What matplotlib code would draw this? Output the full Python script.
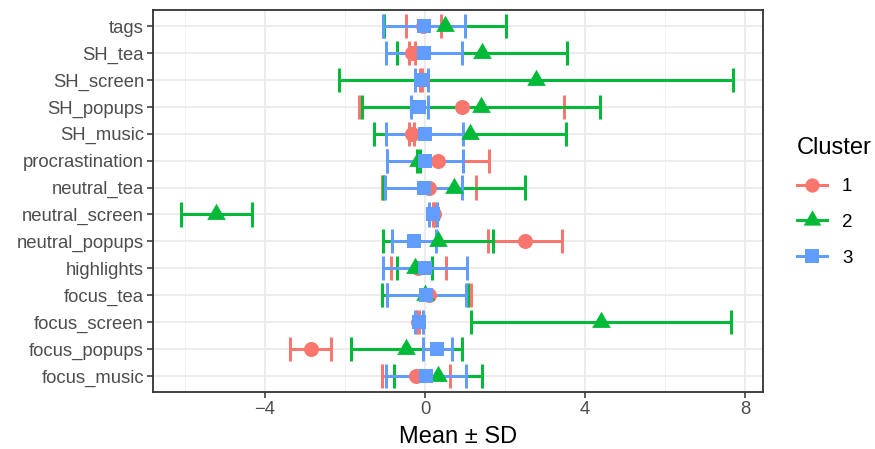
import matplotlib
matplotlib.use("Agg")
import matplotlib.pyplot as plt
from matplotlib.lines import Line2D
from matplotlib.ticker import MultipleLocator
import numpy as np

plt.rcParams["font.family"] = ["Liberation Sans", "DejaVu Sans"]

# Variables, bottom row first
variables = ["focus_music", "focus_popups", "focus_screen", "focus_tea",
             "highlights", "neutral_popups", "neutral_screen", "neutral_tea",
             "procrastination", "SH_music", "SH_popups", "SH_screen",
             "SH_tea", "tags"]

clusters = ["1", "2", "3"]

mean_c1 = [-0.23, -2.86, -0.17, 0.10, -0.17, 2.50, 0.22, 0.10,
           0.33, -0.33, 0.92, -0.10, -0.33, -0.045]
sd_c1 = [0.85, 0.51, 0.02, 1.04, 0.69, 0.93, 0.03, 1.18,
         1.27, 0.06, 2.56, 0.02, 0.08, 0.435]

mean_c2 = [0.33, -0.465, 4.395, 0.00, -0.26, 0.335, -5.22, 0.73,
           -0.17, 1.125, 1.40, 2.78, 1.43, 0.50]
sd_c2 = [1.10, 1.385, 3.255, 1.075, 0.43, 1.375, 0.89, 1.77,
         0.04, 2.40, 2.97, 4.93, 2.12, 1.52]

mean_c3 = [0.02, 0.305, -0.15, 0.03, 0.00, -0.27, 0.19, -0.03,
           0.01, -0.01, -0.145, -0.09, -0.025, -0.02]
sd_c3 = [1.00, 0.365, 0.10, 0.99, 1.04, 0.55, 0.10, 0.96,
         0.95, 0.97, 0.215, 0.16, 0.955, 1.02]

means = [mean_c1, mean_c2, mean_c3]
sds = [sd_c1, sd_c2, sd_c3]
colors = ["#F8766D", "#00BA38", "#619CFF"]

# equilateral triangle centred on its centroid
tri = [(0, 0.577), (-0.5, -0.289), (0.5, -0.289), (0, 0.577)]
markers = ["o", tri, "s"]
msizes = [10.8, 15.5, 10.5]

fig = plt.figure(figsize=(8.75, 4.49), dpi=100)
ax = fig.add_axes([153 / 875, 1 - 392 / 449, 610 / 875, 382 / 449])

y = np.arange(1, len(variables) + 1)
lw = 2.15
cap = 0.45

# error bars first, then the points on top
for m, s, c in zip(means, sds, colors):
    m = np.asarray(m)
    s = np.asarray(s)
    lo, hi = m - s, m + s
    ax.hlines(y, lo, hi, color=c, lw=lw, zorder=3, capstyle="butt")
    ax.vlines(lo, y - cap, y + cap, color=c, lw=lw, zorder=3, capstyle="butt")
    ax.vlines(hi, y - cap, y + cap, color=c, lw=lw, zorder=3, capstyle="butt")

for m, c, mk, ms in zip(means, colors, markers, msizes):
    ax.plot(m, y, linestyle="none", marker=mk, markersize=ms, color=c,
            markeredgewidth=0, zorder=4)

ax.set_xlim(-6.8, 8.45)
ax.set_ylim(0.4, len(variables) + 0.6)
ax.set_yticks(y)
ax.set_yticklabels(variables)
ax.xaxis.set_major_locator(MultipleLocator(4))
ax.xaxis.set_minor_locator(MultipleLocator(2))

ax.grid(which="major", color="#EBEBEB", lw=1.3, zorder=0)
ax.grid(which="minor", axis="x", color="#F2F2F2", lw=0.7, zorder=0)
ax.set_axisbelow(True)

for sp in ax.spines.values():
    sp.set_color("#333333")
    sp.set_linewidth(1.3)

ax.tick_params(axis="both", which="major", length=4.0, width=1.1,
               color="#333333", labelcolor="#4D4D4D", labelsize=13.3, pad=2.5)
ax.tick_params(axis="x", which="minor", length=0)

ax.set_xlabel("Mean \u00b1 SD", fontsize=17, color="black", labelpad=5.5)

handles = [Line2D([0], [0], color=c, lw=lw, marker=mk, markersize=ms * 0.95,
                  markeredgewidth=0)
           for c, mk, ms in zip(colors, markers, msizes)]
fig.legend(handles, clusters, title="Cluster", loc="center left",
           bbox_to_anchor=(797 / 875, 1 - 202 / 449), frameon=False,
           borderpad=0, borderaxespad=0,
           fontsize=13.5, title_fontsize=17, handlelength=1.6,
           handletextpad=0.8, labelspacing=1.0, alignment="left")

fig.savefig("out.png", dpi=100)
